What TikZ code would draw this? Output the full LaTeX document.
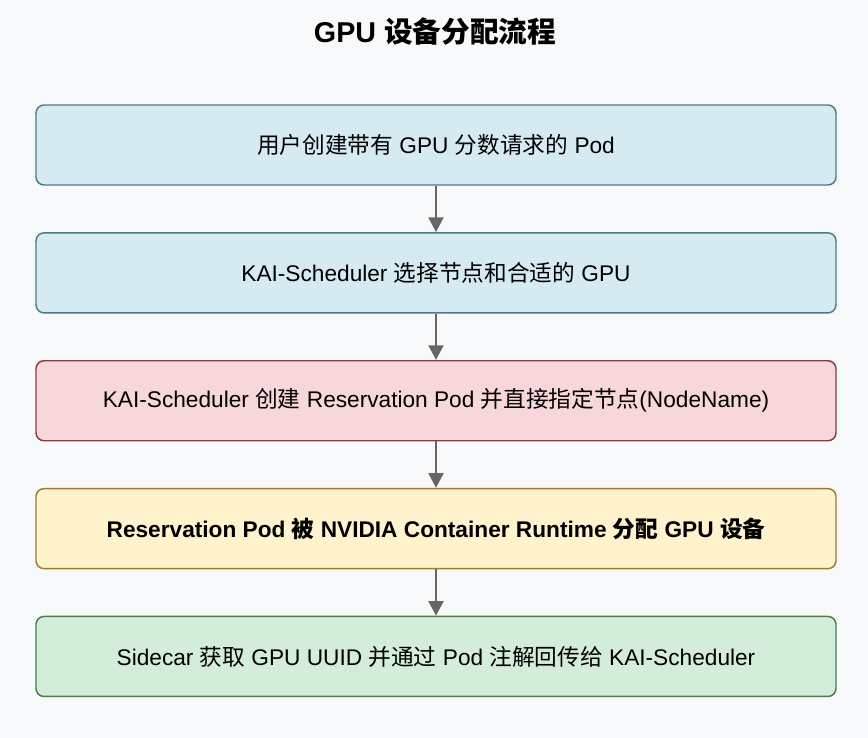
\documentclass[tikz,border=0pt]{standalone}
\usepackage{fontspec}
\setmainfont{Liberation Sans}
\newfontfamily\cjk{Noto Sans CJK SC}
\usepackage{xcolor}
\usetikzlibrary{arrows.meta,positioning}
\definecolor{pagebg}{RGB}{248, 249, 251}
\definecolor{bluefill}{RGB}{213, 235, 241}
\definecolor{blueline}{RGB}{74, 122, 133}
\definecolor{redfill}{RGB}{248, 215, 218}
\definecolor{redline}{RGB}{139, 58, 68}
\definecolor{yellowfill}{RGB}{255, 243, 205}
\definecolor{yellowline}{RGB}{156, 124, 48}
\definecolor{greenfill}{RGB}{212, 237, 218}
\definecolor{greenline}{RGB}{78, 125, 74}
\definecolor{arrowgray}{RGB}{102, 102, 102}
\begin{document}
\begin{tikzpicture}[
    x=0.75pt, y=-0.75pt,
    node distance=34.8pt,
    stepbox/.style={rectangle, rounded corners=6pt, line width=1.1pt, minimum width=600pt, minimum height=60pt, align=center, font=\fontsize{17}{20}\selectfont, text=black},
    bluebox/.style={stepbox, draw=blueline, fill=bluefill},
    redbox/.style={stepbox, draw=redline, fill=redfill},
    yellowbox/.style={stepbox, draw=yellowline, fill=yellowfill},
    greenbox/.style={stepbox, draw=greenline, fill=greenfill},
    arrow/.style={-{Triangle[length=11pt, width=11pt]}, line width=2.2pt, arrowgray}
]
    \fill[pagebg] (0,0) rectangle (868,738);
    \useasboundingbox (0,0) rectangle (868,738);

    \node[font=\fontsize{21.5}{24}\selectfont\bfseries] (title) at (435,32) {GPU {\cjk\bfseries 设备分配流程}};

    \node[bluebox] (s1) at (436,145) {{\cjk 用户创建带有} GPU {\cjk 分数请求的} Pod};
    \node[bluebox, below=of s1] (s2) {KAI-Scheduler {\cjk 选择节点和合适的} GPU};
    \node[redbox, below=of s2] (s3) {KAI-Scheduler {\cjk 创建} Reservation Pod {\cjk 并直接指定节点}(NodeName)};
    \node[yellowbox, below=of s3, font=\fontsize{17}{20}\selectfont\bfseries] (s4) {Reservation Pod {\cjk\bfseries 被} NVIDIA Container Runtime {\cjk\bfseries 分配} GPU {\cjk\bfseries 设备}};
    \node[greenbox, below=of s4] (s5) {Sidecar {\cjk 获取} GPU UUID {\cjk 并通过} Pod {\cjk 注解回传给} KAI-Scheduler};

    \draw[arrow] (s1) -- (s2);
    \draw[arrow] (s2) -- (s3);
    \draw[arrow] (s3) -- (s4);
    \draw[arrow] (s4) -- (s5);
\end{tikzpicture}
\end{document}
